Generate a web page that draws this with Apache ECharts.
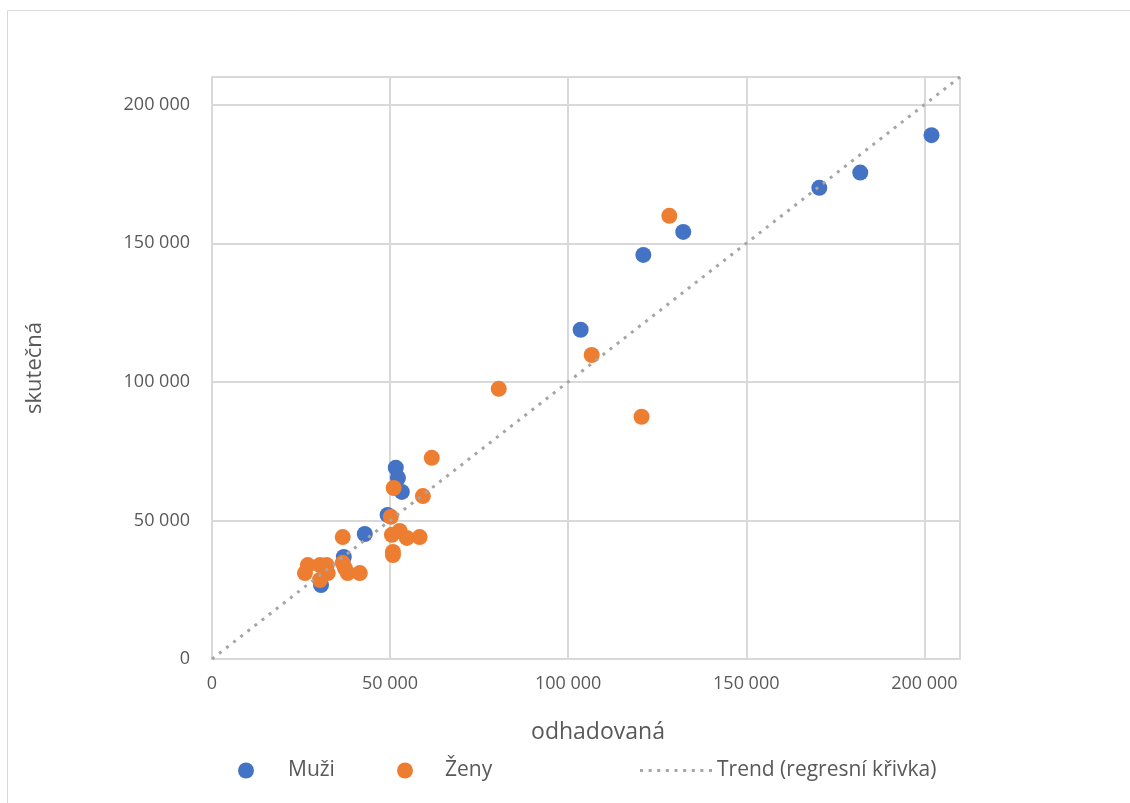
<!DOCTYPE html>
<html>
<head>
<meta charset="utf-8">
<script src="https://cdn.jsdelivr.net/npm/echarts@6/dist/echarts.min.js"></script>
<style>html,body{margin:0;padding:0;background:#fff}#c{width:1130px;height:803px}</style>
</head>
<body>
<div id="c"></div>
<script>
// Muži: [odhadovaná, skutečná]
const muziData = [
  [202000, 189000], [170500, 170000], [182000, 175500], [132300, 154100],
  [121100, 145800], [103500, 118800], [51600, 69000], [52200, 65300],
  [53300, 60300], [49300, 52000], [42900, 45100], [37000, 36800],
  [30600, 26700]
];
// Ženy: [odhadovaná, skutečná]
const zenyData = [
  [128400, 159900], [106600, 109700], [80500, 97500], [120600, 87400],
  [61700, 72600], [59200, 58800], [51000, 61700], [50200, 51300],
  [36700, 44000], [50500, 44800], [52700, 46200], [54700, 43700],
  [58300, 44000], [50800, 38600], [50800, 37500], [26900, 33900],
  [26100, 31000], [30300, 33900], [32200, 33900], [32500, 31000],
  [30300, 28500], [36700, 34700], [37300, 32800], [38100, 31000],
  [41500, 31000]
];
// Trend (regresní křivka)
const trendData = [[0, 0], [210000, 210000]];
const xTicks = [0, 50000, 100000, 150000, 200000];
const yTicks = [0, 50000, 100000, 150000, 200000];

const fmt = v => {
  if (v === 0) return '0';
  const s = String(Math.round(v));
  return s.replace(/\B(?=(\d{3})+(?!\d))/g, ' ');
};
const FONT = 'Open Sans';
const TXT = '#595959';

// dotted legend icon: 9 small squares across 72px
let dotPath = 'path://';
for (let i = 0; i < 9; i++) {
  const x = i * 8.625;
  dotPath += 'M' + x + ',0h3v3h-3z';
}

const chart = echarts.init(document.getElementById('c'), null, {renderer: 'canvas'});
chart.setOption({
  backgroundColor: '#fff',
  animation: false,
  graphic: [{
    type: 'rect', shape: {x: 7.5, y: 10.5, width: 1200, height: 900},
    style: {fill: 'none', stroke: '#d9d9d9', lineWidth: 1}, z: -10
  }],
  grid: {left: 212, right: 170, top: 77, bottom: 144},
  xAxis: {
    type: 'value', min: 0, max: 210000, interval: 50000,
    name: 'odhadovaná', nameLocation: 'middle', nameGap: 62,
    nameTextStyle: {fontFamily: FONT, fontSize: 23, color: TXT, padding: [0, 0, 0, 24]},
    axisLine: {show: true, lineStyle: {color: '#d9d9d9', width: 2}},
    axisTick: {show: false},
    axisLabel: {fontFamily: FONT, fontSize: 18, color: TXT, margin: 16,
      formatter: v => xTicks.includes(v) ? fmt(v) : ''},
    splitLine: {show: true, lineStyle: {color: '#d9d9d9', width: 2}}
  },
  yAxis: {
    type: 'value', min: 0, max: 210000, interval: 50000,
    name: 'skutečná', nameLocation: 'middle', nameGap: 166, nameRotate: 90,
    nameTextStyle: {fontFamily: FONT, fontSize: 22, color: TXT},
    axisLine: {show: true, lineStyle: {color: '#d9d9d9', width: 2}},
    axisTick: {show: false},
    axisLabel: {fontFamily: FONT, fontSize: 18, color: TXT, margin: 22,
      formatter: v => yTicks.includes(v) ? fmt(v) : ''},
    splitLine: {show: true, lineStyle: {color: '#d9d9d9', width: 2}}
  },
  legend: [
    {data: [{name: 'Muži', icon: 'circle'}], left: 238, top: 760, padding: 0,
      itemWidth: 16, itemHeight: 16,
      textStyle: {fontFamily: FONT, fontSize: 21, color: TXT, padding: [0, 0, 0, 29]}},
    {data: [{name: 'Ženy', icon: 'circle'}], left: 397, top: 760, padding: 0,
      itemWidth: 16, itemHeight: 16,
      textStyle: {fontFamily: FONT, fontSize: 21, color: TXT, padding: [0, 0, 0, 27]}},
    {data: [{name: 'Trend (regresní křivka)', icon: dotPath}], left: 640, top: 760, padding: 0,
      itemWidth: 72, itemHeight: 16,
      textStyle: {fontFamily: FONT, fontSize: 21, color: TXT}}
  ],
  series: [
    {name: 'Muži', type: 'scatter', data: muziData, symbolSize: 16,
      itemStyle: {color: '#4472C4', opacity: 1}, z: 2},
    {name: 'Ženy', type: 'scatter', data: zenyData, symbolSize: 16,
      itemStyle: {color: '#ED7D31', opacity: 1}, z: 3},
    {name: 'Trend (regresní křivka)', type: 'line', data: trendData, showSymbol: false,
      symbol: 'none', lineStyle: {color: '#A5A5A5', width: 3, type: [3, 6]},
      itemStyle: {color: '#A5A5A5'}, z: 4, silent: true}
  ]
});
</script>
</body>
</html>
